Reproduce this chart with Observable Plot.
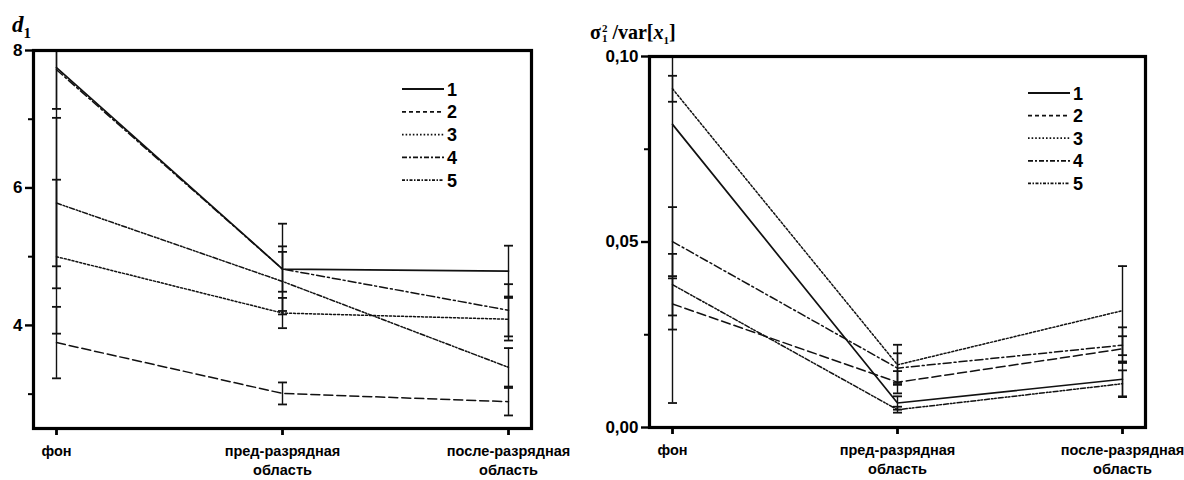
<!DOCTYPE html>
<html>
<head>
<meta charset="utf-8">
<script src="https://cdn.jsdelivr.net/npm/d3@7"></script>
<script src="https://cdn.jsdelivr.net/npm/@observablehq/plot@0.6"></script>
<style>
  html, body { margin: 0; padding: 0; background: #fff; }
  #wrap { position: relative; width: 1184px; height: 480px; display: flex; }
  .ylab { position: absolute; font-family: "Liberation Serif", "DejaVu Serif", serif; font-weight: bold; color: #000; line-height: 1; white-space: nowrap; }
  .legend { position: absolute; left: 0; top: 0; pointer-events: none; }
</style>
</head>
<body>
<div id="wrap"></div>
<script>
// ---------- data ----------
const categories = ["фон", "пред-разрядная\nобласть", "после-разрядная\nобласть"];
const seriesNames = ["1", "2", "3", "4", "5"];

// left panel: d1 (mean and error per category)
const d1Series1 = [7.75, 4.82, 4.79];
const d1Error1  = [0.60, 0.66, 0.37];
const d1Series2 = [3.75, 3.01, 2.89];
const d1Error2  = [0.52, 0.16, 0.20];
const d1Series3 = [5.00, 4.18, 4.09];
const d1Error3  = [1.12, 0.22, 0.31];
const d1Series4 = [7.72, 4.82, 4.22];
const d1Error4  = [2.86, 0.33, 0.38];
const d1Series5 = [5.78, 4.64, 3.39];
const d1Error5  = [1.24, 0.43, 0.28];
const d1Ticks = [4, 6, 8];
const d1TickLabels = ["4", "6", "8"];
const d1MinorTicks = [3, 5, 7];

// right panel: sigma1^2 / var[x1]
const svSeries1 = [0.0817, 0.0066, 0.0130];
const svError1  = [0.0751, 0.0018, 0.0046];
const svSeries2 = [0.0333, 0.0122, 0.0212];
const svError2  = [0.0069, 0.0030, 0.0034];
const svSeries3 = [0.0913, 0.0169, 0.0315];
const svError3  = [0.0035, 0.0054, 0.0120];
const svSeries4 = [0.0501, 0.0160, 0.0222];
const svError4  = [0.0093, 0.0040, 0.0048];
const svSeries5 = [0.0385, 0.0048, 0.0118];
const svError5  = [0.0083, 0.0008, 0.0036];
const svTicks = [0, 0.05, 0.10];
const svTickLabels = ["0,00", "0,05", "0,10"];
const svMinorTicks = [0.025, 0.075];

// ---------- styles ----------
const lineDash = [null, "9,4", "2,2", "8,3,2,3", "5,2,1.6,1.6,1.6,2"];
const legendDash = [null, "4,3", "1.6,2", "5,2,2,2", "3,1.5,1.5,1.5"];
const capSymbol = {
  draw(ctx, size) {
    const w = Math.sqrt(size / Math.PI);
    ctx.moveTo(-w, 0);
    ctx.lineTo(w, 0);
  }
};

function rowsFor(meansList, errList) {
  const rows = [];
  meansList.forEach((means, s) => {
    means.forEach((v, i) => {
      rows.push({series: seriesNames[s], s, cat: categories[i], y: v, e: errList[s][i]});
    });
  });
  return rows;
}

function panel(opts) {
  const rows = rowsFor(opts.means, opts.errs);
  const caps = rows.flatMap(d => [{cat: d.cat, y: d.y - d.e}, {cat: d.cat, y: d.y + d.e}]);
  const marks = [];
  marks.push(Plot.ruleX(rows, {x: "cat", y1: d => d.y - d.e, y2: d => d.y + d.e, stroke: "#111", strokeWidth: 1.4, clip: true}));
  marks.push(Plot.dot(caps, {x: "cat", y: "y", symbol: capSymbol, r: 4.5, fill: "none", stroke: "#111", strokeWidth: 1.8, clip: true}));
  seriesNames.forEach((name, s) => {
    marks.push(Plot.line(rows.filter(d => d.s === s), {
      x: "cat", y: "y", stroke: "#111", strokeWidth: s === 0 ? 1.7 : 1.5,
      strokeDasharray: lineDash[s], clip: true
    }));
  });
  marks.push(Plot.axisY({ticks: opts.ticks, tickSize: 8, tickPadding: 3, strokeWidth: 2.4,
    tickFormat: d => opts.tickLabels[opts.ticks.indexOf(d)], fontSize: 17, fontWeight: "bold", label: null}));
  marks.push(Plot.axisY({ticks: opts.minor, tickSize: 5, strokeWidth: 2, tickFormat: () => "", label: null}));
  marks.push(Plot.axisX({tickSize: 7, tickPadding: 7, strokeWidth: 2.8, fontSize: 14.5, fontWeight: "bold",
    lineHeight: 1.3, label: null}));
  marks.push(Plot.frame({stroke: "#000", strokeWidth: 3.2}));
  return Plot.plot({
    width: opts.width, height: 480,
    marginLeft: opts.marginLeft, marginRight: opts.marginRight,
    marginTop: opts.marginTop, marginBottom: opts.marginBottom,
    x: {type: "point", domain: categories, padding: 0.1},
    y: {domain: opts.domain},
    style: {fontFamily: "'Liberation Sans', Arial, sans-serif", fontWeight: "bold", fontSize: "15px", color: "#000", background: "#fff", overflow: "visible"},
    marks
  });
}

const wrap = document.getElementById("wrap");
const left = panel({
  means: [d1Series1, d1Series2, d1Series3, d1Series4, d1Series5],
  errs: [d1Error1, d1Error2, d1Error3, d1Error4, d1Error5],
  domain: [2.5, 8], ticks: d1Ticks, tickLabels: d1TickLabels, minor: d1MinorTicks,
  width: 580, marginLeft: 33, marginRight: 49, marginTop: 50, marginBottom: 52
});
const right = panel({
  means: [svSeries1, svSeries2, svSeries3, svSeries4, svSeries5],
  errs: [svError1, svError2, svError3, svError4, svError5],
  domain: [0, 0.10], ticks: svTicks, tickLabels: svTickLabels, minor: svMinorTicks,
  width: 604, marginLeft: 69, marginRight: 39, marginTop: 56, marginBottom: 53
});
wrap.appendChild(left);
wrap.appendChild(right);

// y labels
const l1 = document.createElement("div");
l1.className = "ylab";
l1.style.left = "12px"; l1.style.top = "13px"; l1.style.fontSize = "23px";
l1.innerHTML = '<i>d</i><sub style="font-size:15px;font-style:normal">1</sub>';
wrap.appendChild(l1);
const l2 = document.createElement("div");
l2.className = "ylab";
l2.style.left = "590px"; l2.style.top = "22px"; l2.style.fontSize = "20px";
l2.innerHTML = 'σ<span style="display:inline-block;vertical-align:-0.3em;font-size:11px;line-height:10px;margin-left:1px">2<br>1</span> /var[<i>x</i><sub style="font-size:11px">1</sub>]';
wrap.appendChild(l2);

// legends
function legend(x0, y0, step) {
  const svg = d3.create("svg").attr("class", "legend").attr("width", 1184).attr("height", 480);
  seriesNames.forEach((name, s) => {
    const y = y0 + s * step;
    svg.append("line").attr("x1", x0).attr("x2", x0 + 42).attr("y1", y).attr("y2", y)
      .attr("stroke", "#111").attr("stroke-width", s === 0 ? 2 : 1.8)
      .attr("stroke-dasharray", legendDash[s]);
    svg.append("text").attr("x", x0 + 45).attr("y", y + 6.5).text(name)
      .attr("font-family", "'Liberation Sans', Arial, sans-serif").attr("font-weight", "bold").attr("font-size", 18);
  });
  wrap.appendChild(svg.node());
}
legend(402, 89, 22.8);
legend(1028, 93, 22.6);
</script>
</body>
</html>
